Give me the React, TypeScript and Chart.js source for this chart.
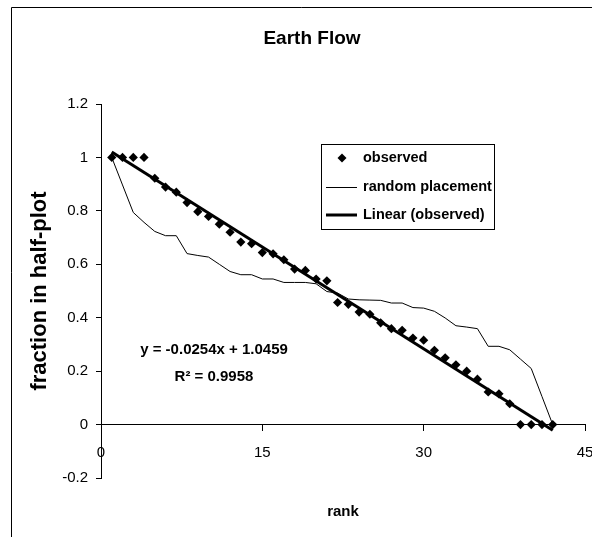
import React, { useEffect, useRef } from "react";
import { Chart, registerables } from "chart.js";

Chart.register(...registerables);

// ---- data ----
const RANKS = [
  1, 2, 3, 4, 5, 6, 7, 8, 9, 10, 11, 12, 13, 14, 15, 16, 17, 18, 19, 20, 21,
  22, 23, 24, 25, 26, 27, 28, 29, 30, 31, 32, 33, 34, 35, 36, 37, 38, 39, 40, 41, 42,
];
const OBSERVED = [
  1, 1, 1, 1, 0.922, 0.889, 0.87, 0.831, 0.797, 0.779, 0.75, 0.72, 0.683, 0.677,
  0.644, 0.639, 0.617, 0.582, 0.577, 0.545, 0.538, 0.457, 0.45, 0.421, 0.413,
  0.381, 0.359, 0.353, 0.324, 0.316, 0.278, 0.25, 0.224, 0.2, 0.17, 0.122, 0.115,
  0.078, 0, 0, 0, 0,
];
const RANDOM_PLACEMENT = [
  1, 0.897, 0.794, 0.757, 0.723, 0.707, 0.707, 0.64, 0.633, 0.627, 0.6, 0.573,
  0.561, 0.561, 0.545, 0.545, 0.532, 0.532, 0.532, 0.527, 0.498, 0.492, 0.47,
  0.467, 0.466, 0.465, 0.455, 0.455, 0.438, 0.436, 0.424, 0.399, 0.37, 0.365,
  0.359, 0.293, 0.293, 0.28, 0.245, 0.21, 0.105, 0,
];
const TREND_X = [1, 42];
const TREND_SLOPE = -0.0254;
const TREND_INTERCEPT = 1.0459;
const R_SQUARED = 0.9958;

const X_MIN = 0;
const X_MAX = 45;
const X_STEP = 15;
const Y_MIN = -0.2;
const Y_MAX = 1.2;
const Y_STEP = 0.2;

const TITLE = "Earth Flow";
const X_TITLE = "rank";
const Y_TITLE = "fraction in half-plot";
const SERIES_NAMES = ["observed", "random placement", "Linear (observed)"];

const FONT = "'Liberation Sans', Arial, sans-serif";

const decorPlugin = {
  id: "decor",
  beforeDraw(chart: any) {
    const ctx = chart.ctx;
    ctx.save();
    ctx.fillStyle = "#fff";
    ctx.fillRect(0, 0, chart.width, chart.height);
    ctx.strokeStyle = "#000";
    ctx.lineWidth = 1;
    ctx.beginPath();
    ctx.moveTo(11.5, chart.height);
    ctx.lineTo(11.5, 7.5);
    ctx.lineTo(chart.width, 7.5);
    ctx.stroke();
    ctx.restore();
  },
  afterDraw(chart: any) {
    const ctx = chart.ctx;
    const area = chart.chartArea;
    ctx.save();
    ctx.fillStyle = "#000";
    ctx.textBaseline = "middle";
    ctx.textAlign = "center";

    // chart title
    ctx.font = `bold 19px ${FONT}`;
    ctx.fillText(TITLE, 312, 39);

    // x axis title
    ctx.font = `bold 15px ${FONT}`;
    ctx.fillText(X_TITLE, (area.left + area.right) / 2, 512);

    // trendline equation
    ctx.font = `bold 15px ${FONT}`;
    ctx.fillText(
      `y = ${TREND_SLOPE.toFixed(4)}x + ${TREND_INTERCEPT.toFixed(4)}`,
      214,
      350
    );
    ctx.fillText(`R\u00B2 = ${R_SQUARED.toFixed(4)}`, 214, 377);

    // legend
    const bx = 321.5, by = 144.5, bw = 173, bh = 85;
    ctx.fillStyle = "#fff";
    ctx.fillRect(bx, by, bw, bh);
    ctx.strokeStyle = "#000";
    ctx.lineWidth = 1;
    ctx.strokeRect(bx, by, bw, bh);
    const rows = [158, 187, 215];
    ctx.fillStyle = "#000";
    const r = 4.5;
    ctx.beginPath();
    ctx.moveTo(342, rows[0] - r);
    ctx.lineTo(342 + r, rows[0]);
    ctx.lineTo(342, rows[0] + r);
    ctx.lineTo(342 - r, rows[0]);
    ctx.closePath();
    ctx.fill();
    ctx.beginPath();
    ctx.lineWidth = 1;
    ctx.moveTo(326, rows[1] + 0.5);
    ctx.lineTo(357, rows[1] + 0.5);
    ctx.stroke();
    ctx.beginPath();
    ctx.lineWidth = 3;
    ctx.moveTo(326, rows[2]);
    ctx.lineTo(357, rows[2]);
    ctx.stroke();
    ctx.textAlign = "left";
    ctx.font = `bold 14.5px ${FONT}`;
    SERIES_NAMES.forEach((name, i) => ctx.fillText(name, 363, rows[i]));
    ctx.restore();
  },
};

export default function App() {
  const canvasRef = useRef<HTMLCanvasElement | null>(null);

  useEffect(() => {
    const canvas = canvasRef.current;
    if (!canvas) return;
    Chart.defaults.font.family = FONT;
    Chart.defaults.color = "#000";

    const observedPts = RANKS.map((x, i) => ({ x, y: OBSERVED[i] }));
    const randomPts = RANKS.map((x, i) => ({ x, y: RANDOM_PLACEMENT[i] }));
    const trendPts = TREND_X.map((x) => ({ x, y: TREND_SLOPE * x + TREND_INTERCEPT }));

    const chart = new Chart(canvas, {
      type: "scatter",
      data: {
        datasets: [
          {
            label: SERIES_NAMES[0],
            data: observedPts,
            showLine: false,
            pointStyle: "rectRot",
            pointRadius: 4.6,
            pointBackgroundColor: "#000",
            pointBorderColor: "#000",
            pointBorderWidth: 0,
          },
          {
            label: SERIES_NAMES[2],
            data: trendPts,
            showLine: true,
            borderColor: "#000",
            borderWidth: 3,
            pointRadius: 0,
          },
          {
            label: SERIES_NAMES[1],
            data: randomPts,
            showLine: true,
            borderColor: "#000",
            borderWidth: 1,
            pointRadius: 0,
            tension: 0,
          },
        ],
      },
      options: {
        responsive: false,
        animation: false,
        events: [],
        layout: { padding: { left: 0, right: 7, top: 104, bottom: 59 } },
        plugins: {
          legend: { display: false },
          tooltip: { enabled: false },
          title: { display: false },
        },
        scales: {
          x: {
            type: "linear",
            position: { y: 0 } as any,
            min: X_MIN,
            max: X_MAX,
            ticks: {
              stepSize: X_STEP,
              font: { size: 15 },
              color: "#000",
              padding: 13,
              maxRotation: 0,
            },
            grid: {
              drawOnChartArea: false,
              drawTicks: true,
              tickLength: 6,
              color: "#000",
            },
            border: { display: true, color: "#000", width: 1 },
            afterFit: (scale: any) => {
              scale.height = 0;
              scale.paddingLeft = 0;
              scale.paddingRight = 0;
            },
          },
          y: {
            type: "linear",
            position: "left",
            min: Y_MIN,
            max: Y_MAX,
            ticks: {
              stepSize: Y_STEP,
              font: { size: 15 },
              color: "#000",
              padding: 8,
              callback: (v: any) => String(Number(Number(v).toFixed(1))),
            },
            grid: {
              drawOnChartArea: false,
              drawTicks: true,
              tickLength: 5,
              color: "#000",
            },
            border: { display: true, color: "#000", width: 1 },
            title: {
              display: true,
              text: Y_TITLE,
              font: { size: 22, weight: "bold" },
              color: "#000",
              padding: { top: 26.8, bottom: 0 },
            },
            afterFit: (scale: any) => {
              scale.width = 101;
            },
          },
        },
      },
      plugins: [decorPlugin],
    });
    return () => chart.destroy();
  }, []);

  return (
    <div style={{ position: "absolute", left: 0, top: 0, width: 592, height: 537, overflow: "hidden" }}>
      <canvas ref={canvasRef} width={592} height={537} style={{ display: "block" }} />
    </div>
  );
}
